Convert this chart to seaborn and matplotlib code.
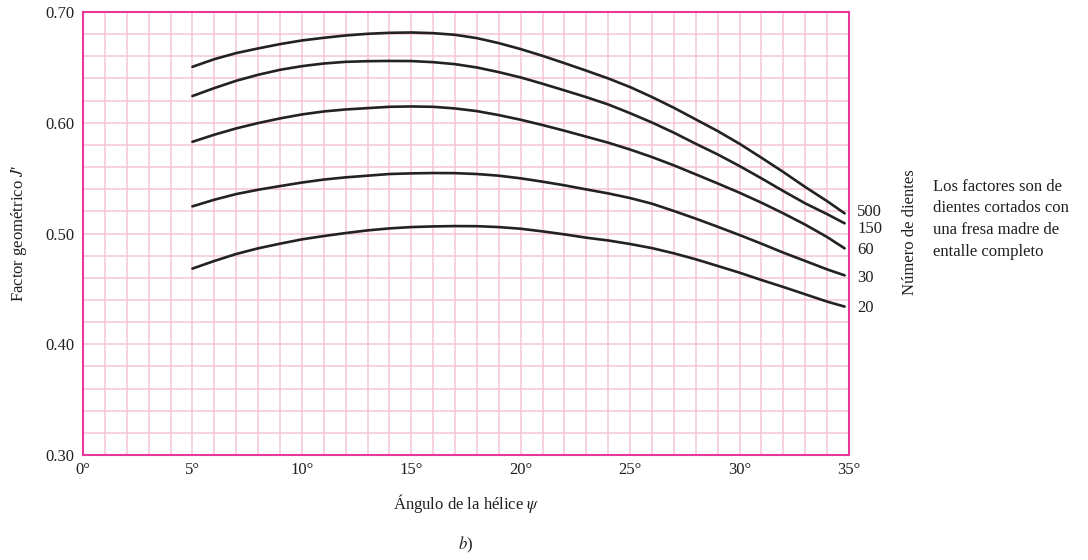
import pandas as pd
import matplotlib
matplotlib.use("Agg")
import matplotlib.pyplot as plt
import seaborn as sns
import numpy as np

# lecturas de la figura, una por grado (angulo de la helice)
angulo = [5, 6, 7, 8, 9, 10, 11, 12, 13, 14, 15, 16, 17, 18, 19, 20,
          21, 22, 23, 24, 25, 26, 27, 28, 29, 30, 31, 32, 33, 34, 34.8]
j_500 = [0.6505, 0.6574, 0.6629, 0.6671, 0.6710, 0.6743, 0.6767, 0.6788, 0.6803, 0.6812, 0.6815,
         0.6809, 0.6794, 0.6764, 0.6719, 0.6665, 0.6604, 0.6538, 0.6470, 0.6400, 0.6322, 0.6232,
         0.6135, 0.6030, 0.5925, 0.5810, 0.5684, 0.5555, 0.5420, 0.5292, 0.5182]
j_150 = [0.6241, 0.6313, 0.6379, 0.6433, 0.6478, 0.6511, 0.6535, 0.6550, 0.6556, 0.6558, 0.6557,
         0.6547, 0.6529, 0.6499, 0.6457, 0.6409, 0.6352, 0.6292, 0.6231, 0.6165, 0.6086, 0.6002,
         0.5910, 0.5810, 0.5714, 0.5609, 0.5498, 0.5383, 0.5272, 0.5175, 0.5092]
j_60 = [0.5828, 0.5892, 0.5949, 0.5997, 0.6039, 0.6075, 0.6102, 0.6120, 0.6132, 0.6144, 0.6147,
        0.6144, 0.6129, 0.6105, 0.6069, 0.6027, 0.5979, 0.5928, 0.5874, 0.5820, 0.5758, 0.5690,
        0.5615, 0.5534, 0.5452, 0.5368, 0.5278, 0.5182, 0.5080, 0.4968, 0.4866]
j_30 = [0.5245, 0.5305, 0.5356, 0.5395, 0.5428, 0.5460, 0.5487, 0.5507, 0.5522, 0.5537, 0.5543,
        0.5546, 0.5545, 0.5537, 0.5522, 0.5498, 0.5468, 0.5435, 0.5398, 0.5362, 0.5320, 0.5269,
        0.5203, 0.5134, 0.5061, 0.4986, 0.4908, 0.4827, 0.4752, 0.4676, 0.4622]
j_20 = [0.4683, 0.4752, 0.4815, 0.4866, 0.4908, 0.4947, 0.4977, 0.5004, 0.5028, 0.5046, 0.5058,
        0.5064, 0.5067, 0.5066, 0.5058, 0.5043, 0.5019, 0.4992, 0.4962, 0.4937, 0.4905, 0.4868,
        0.4821, 0.4767, 0.4707, 0.4646, 0.4580, 0.4517, 0.4451, 0.4385, 0.4340]
dientes = ["500", "150", "60", "30", "20"]
x_ticks = [0, 5, 10, 15, 20, 25, 30, 35]
y_ticks = [0.30, 0.40, 0.50, 0.60, 0.70]

series = {"500": j_500, "150": j_150, "60": j_60, "30": j_30, "20": j_20}
df = pd.concat([pd.DataFrame({"angulo": angulo, "J": v, "dientes": k}) for k, v in series.items()])

sns.set_style("white")
plt.rcParams["font.family"] = ["Liberation Serif", "DejaVu Serif"]
plt.rcParams["mathtext.fontset"] = "stix"

pink = "#f6c3da"
magenta = "#e8399a"
ink = "#231f20"

fig = plt.figure(figsize=(10.88, 5.6), dpi=100)
ax = fig.add_axes([83 / 1088, 1 - 455 / 560, 766 / 1088, 443 / 560])

sns.lineplot(data=df, x="angulo", y="J", hue="dientes", hue_order=dientes,
             palette=["#222222"] * 5, linewidth=1.9, legend=False, ax=ax)

ax.set_xlim(0, 35)
ax.set_ylim(0.30, 0.70)
ax.set_xticks(x_ticks)
ax.set_xticklabels([f"{t}°" for t in x_ticks], fontsize=12)
ax.set_xticks(np.arange(0, 36, 1), minor=True)
ax.set_yticks(y_ticks)
ax.set_yticklabels([f"{t:.2f}" for t in y_ticks], fontsize=12)
ax.set_yticks(np.arange(0.30, 0.701, 0.02), minor=True)
ax.grid(True, which="both", color=pink, linewidth=1.1)
ax.set_axisbelow(True)
ax.tick_params(which="both", length=0, colors=ink)
ax.tick_params(axis="x", pad=5)
ax.tick_params(axis="y", pad=6)
for s in ax.spines.values():
    s.set_color(magenta)
    s.set_linewidth(1.5)

ax.set_xlabel("Ángulo de la hélice $\\psi$", fontsize=12, color=ink, labelpad=10)
ax.set_ylabel("Factor geométrico $J$′", fontsize=12, color=ink, labelpad=12)

# etiquetas de las curvas
for lab, yp in zip(dientes, [212, 229, 250, 278, 308]):
    fig.text(857 / 1088, 1 - yp / 560, lab, fontsize=12, va="center", color=ink)
fig.text(910 / 1088, 1 - 232 / 560, "Número de dientes", rotation=90, fontsize=12,
         ha="center", va="center", color=ink)
nota = ["Los factores son de", "dientes cortados con", "una fresa madre de", "entalle completo"]
for i, line in enumerate(nota):
    fig.text(933 / 1088, 1 - (187 + 21.5 * i) / 560, line, fontsize=12, va="center", color=ink)
fig.text(466 / 1088, 1 - 545 / 560, "$b$)", fontsize=12, ha="center", va="center", color=ink)

fig.savefig("out.png", dpi=100)
